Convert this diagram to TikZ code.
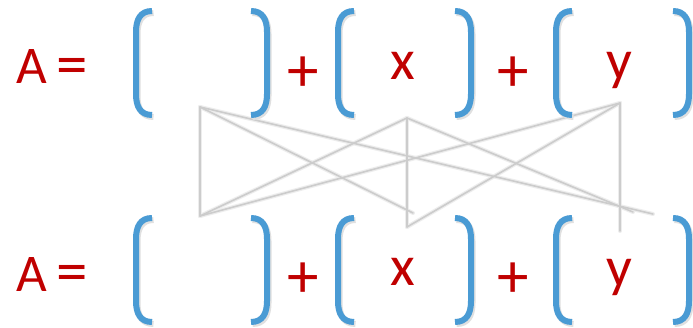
\documentclass[tikz,border=0pt]{standalone}
\usepackage{fontspec}
\setmainfont{Carlito}
\definecolor{brblue}{HTML}{4A9BD4}
\definecolor{txred}{HTML}{C00000}
\tikzset{
  x=1pt, y=-1pt,
  brk/.style={draw=brblue, line width=6pt, line cap=butt},
  brkshadow/.style={draw=black!12, line width=6pt},
  eq/.style={text=txred, inner sep=0pt, font=\fontsize{53}{60}\selectfont},
  op/.style={text=txred, inner sep=0pt, font=\fontsize{63}{70}\selectfont},
  var/.style={text=txred, inner sep=0pt, font=\fontsize{57}{64}\selectfont},
  lnk/.style={draw=black!20, line width=1.6pt, line cap=round},
  lnkshadow/.style={draw=black!7, line width=4pt, line cap=round},
  pics/lbr/.style={code={
    \draw[brkshadow, shift={(1.5,2)}] (0,0) .. controls (-12,0) and (-16,9) .. (-16,21) -- (-16,83) .. controls (-16,95) and (-12,104) .. (0,104);
    \draw[brk] (0,0) .. controls (-12,0) and (-16,9) .. (-16,21) -- (-16,83) .. controls (-16,95) and (-12,104) .. (0,104);}},
  pics/rbr/.style={code={
    \draw[brkshadow, shift={(1.5,2)}] (0,0) .. controls (12,0) and (16,9) .. (16,21) -- (16,83) .. controls (16,95) and (12,104) .. (0,104);
    \draw[brk] (0,0) .. controls (12,0) and (16,9) .. (16,21) -- (16,83) .. controls (16,95) and (12,104) .. (0,104);}}
}
\begin{document}
\begin{tikzpicture}
\useasboundingbox[fill=white] (0,0) rectangle (693,328);
% link points
\coordinate (P1) at (200,107);
\coordinate (P2) at (407,118);
\coordinate (P3) at (620,103);
\coordinate (Q1) at (200,216);
\coordinate (Q2) at (407,227);
\coordinate (Q3) at (620,231);
\coordinate (E1) at (413,213);
\coordinate (E2) at (653,214);
\coordinate (E3) at (633,212);
% shadows of links
\begin{scope}[shift={(2,3)}]
\foreach \a/\b in {P1/Q1,P1/E1,P1/E2,P2/Q2,P2/E3,Q1/P2,Q1/P3,Q2/P3,P3/Q3}
  \draw[lnkshadow] (\a) -- (\b);
\end{scope}
\foreach \a/\b in {P1/Q1,P1/E1,P1/E2,P2/Q2,P2/E3,Q1/P2,Q1/P3,Q2/P3,P3/Q3}
  \draw[lnk] (\a) -- (\b);
% brackets
\foreach \yy in {11,218}{
  \pic at (152,\yy) {lbr};
  \pic at (251,\yy) {rbr};
  \pic at (354,\yy) {lbr};
  \pic at (455,\yy) {rbr};
  \pic at (572,\yy) {lbr};
  \pic at (673,\yy) {rbr};
}
% texts top
\node[eq, anchor=base west] (a1) at (16,84) {A};
\node[op] (e1) at (72.5,72) {=};
\node[op] (p1) at (303,74) {+};
\node[var, anchor=base] (x1) at (403,80) {x};
\node[op] (p2) at (513,74) {+};
\node[var, anchor=base] (y1) at (619,80) {y};
% texts bottom
\node[eq, anchor=base west] (a2) at (16,292) {A};
\node[op] (e2) at (72.5,279) {=};
\node[op] (p3) at (303,280) {+};
\node[var, anchor=base] (x2) at (403,286) {x};
\node[op] (p4) at (513,280) {+};
\node[var, anchor=base] (y2) at (619,287) {y};
\end{tikzpicture}
\end{document}
